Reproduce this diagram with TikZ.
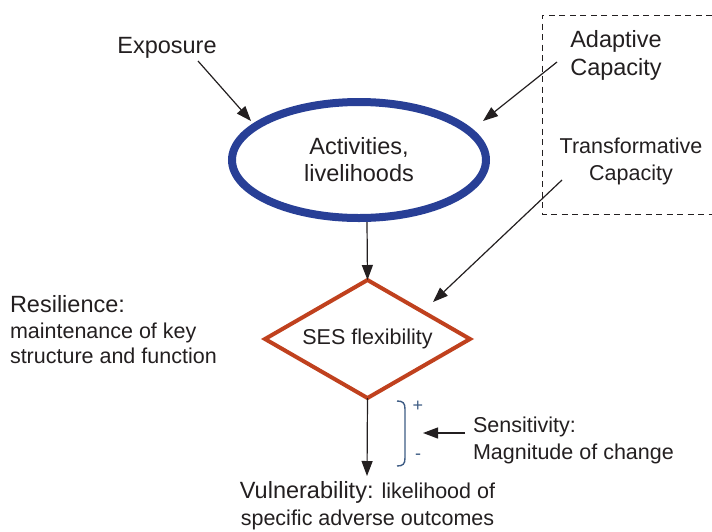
\documentclass[tikz,border=0pt]{standalone}
\usepackage{fontspec}
\setmainfont{Liberation Sans}
\usetikzlibrary{shapes.geometric,arrows.meta}
\definecolor{ellblue}{RGB}{40,63,150}
\definecolor{diared}{RGB}{192,65,30}
\definecolor{brk}{RGB}{62,92,132}
\definecolor{txt}{RGB}{35,31,32}
\begin{document}
\begin{tikzpicture}[x=1pt,y=-1pt,
  big/.style={font=\fontsize{23.5}{27}\selectfont, text=txt, inner sep=0pt, outer sep=0pt},
  small/.style={font=\fontsize{21.5}{25}\selectfont, text=txt, inner sep=0pt, outer sep=0pt},
  arr/.style={draw=txt, line width=1.2pt, -{Triangle[length=15pt,width=11pt]}},
  dashbox/.style={draw=txt, line width=1pt, dash pattern=on 6pt off 4.5pt}]
\useasboundingbox (0,0) rectangle (712,531);

% dashed capacity box (open on the right)
\draw[dashbox] (712,15) -- (542,15) -- (542,214) -- (712,214);

% main shapes
\node[ellipse, draw=ellblue, line width=8pt, minimum width=254pt, minimum height=116pt,
      inner sep=0pt, align=center, big] (ell) at (359,160) {Activities,\\livelihoods};
\node[diamond, draw=diared, line width=4pt, minimum width=205pt, minimum height=118pt,
      aspect=1.74, inner sep=0pt, small] (dia) at (367.5,339) {SES flexibility};

% labels
\node[big, anchor=base] (expo) at (167,53) {Exposure};
\node[big, align=center, font=\fontsize{23.5}{28}\selectfont] (adap) at (616,55.6) {Adaptive\\Capacity};
\node[small, align=center, font=\fontsize{21.5}{27}\selectfont] (trans) at (631,161) {Transformative\\Capacity};
\node[big, anchor=base west] (res) at (10,312) {Resilience:};
\node[small, align=left, anchor=west, font=\fontsize{21.5}{25}\selectfont] (resd) at (10,343.5) {maintenance of key\\structure and function};
\node[small, align=center, font=\fontsize{21.5}{27}\selectfont] (vul) at (367.5,506)
  {{\fontsize{23.5}{27}\selectfont Vulnerability:} likelihood of\\specific adverse outcomes};
\node[small, align=left, anchor=west, font=\fontsize{21.5}{27}\selectfont] (sens) at (473,440.9) {Sensitivity:\\Magnitude of change};
\node[inner sep=0pt, text=brk, font=\fontsize{18}{18}\selectfont] (plus) at (418,406) {+};
\node[inner sep=0pt, text=brk, font=\fontsize{18}{18}\selectfont] (minus) at (418,457) {-};

% connector end points
\coordinate (expoT) at (198,61);
\coordinate (expoH) at (251,121);
\coordinate (adapT) at (557,62);
\coordinate (adapH) at (483,121);
\coordinate (transT) at (562,180);
\coordinate (transH) at (433,302);
\coordinate (ellOut) at (367,222);
\coordinate (vulH) at (367,476);
\coordinate (sensT) at (465,433);
\coordinate (sensH) at (423,433);

% connectors
\draw[arr] (expoT) -- (expoH);
\draw[arr] (adapT) -- (adapH);
\draw[arr] (transT) -- (transH);
\draw[arr] (ellOut) -- (dia.north);
\draw[arr] (dia.south) -- (vulH);
\draw[arr] (sensT) -- (sensH);

% sensitivity bracket
\coordinate (bTop) at (397,401);
\coordinate (bBot) at (397,466);
\draw[brk, line width=1.4pt] (bTop) .. controls (403,401) and (405,403) .. (405,409)
  -- (405,458) .. controls (405,464) and (403,466) .. (bBot);
\end{tikzpicture}
\end{document}
